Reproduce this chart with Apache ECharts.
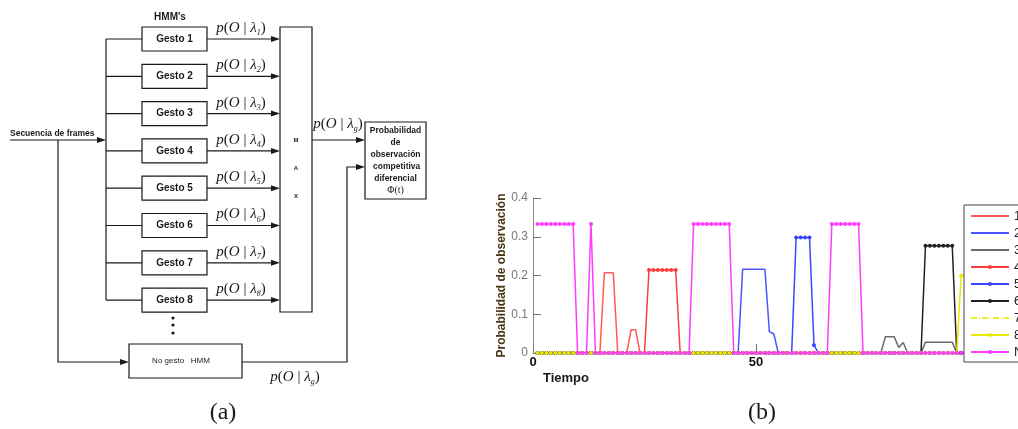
<!DOCTYPE html>
<html>
<head>
<meta charset="utf-8">
<script src="https://cdn.jsdelivr.net/npm/echarts@6/dist/echarts.min.js"></script>
<style>
  html, body { margin: 0; padding: 0; background: #fff; }
  #chart { width: 1018px; height: 429px; }
</style>
</head>
<body>
<div id="chart"></div>
<script>
// ---- (b) observation probabilities, one value per time step (t = 1, 2, ...)
const serieNombres = ['1', '2', '3', '4', '5', '6', '7', '8', 'No gesto'];

const gesto1 = [
  0, 0, 0, 0, 0, 0, 0, 0, 0, 0,
  0, 0, 0, 0, 0, 0.207, 0.207, 0.207, 0, 0,
  0, 0.06, 0.06, 0, 0, 0, 0, 0, 0, 0,
  0, 0, 0, 0, 0, 0, 0, 0, 0, 0,
  0, 0, 0, 0, 0, 0, 0, 0, 0, 0,
  0, 0, 0, 0, 0, 0, 0, 0, 0, 0,
  0, 0, 0, 0, 0, 0, 0, 0, 0, 0,
  0, 0, 0, 0, 0, 0, 0, 0, 0, 0,
  0, 0, 0, 0, 0, 0, 0, 0, 0, 0,
  0, 0, 0, 0, 0, 0, 0, 0, 0
];
const gesto2 = [
  0, 0, 0, 0, 0, 0, 0, 0, 0, 0,
  0, 0, 0, 0, 0, 0, 0, 0, 0, 0,
  0, 0, 0, 0, 0, 0, 0, 0, 0, 0,
  0, 0, 0, 0, 0, 0, 0, 0, 0, 0,
  0, 0, 0, 0, 0, 0, 0.216, 0.216, 0.216, 0.216,
  0.216, 0.216, 0.055, 0.049, 0, 0, 0, 0, 0, 0,
  0, 0, 0, 0, 0, 0, 0, 0, 0, 0,
  0, 0, 0, 0, 0, 0, 0, 0, 0, 0,
  0, 0, 0, 0, 0, 0, 0, 0, 0, 0,
  0, 0, 0, 0, 0, 0, 0, 0, 0
];
const gesto3 = [
  0, 0, 0, 0, 0, 0, 0, 0, 0, 0,
  0, 0, 0, 0, 0, 0, 0, 0, 0, 0,
  0, 0, 0, 0, 0, 0, 0, 0, 0, 0,
  0, 0, 0, 0, 0, 0, 0, 0, 0, 0,
  0, 0, 0, 0, 0, 0, 0, 0, 0, 0,
  0, 0, 0, 0, 0, 0, 0, 0, 0, 0,
  0, 0, 0, 0, 0, 0, 0, 0, 0, 0,
  0, 0, 0, 0, 0, 0, 0, 0, 0.042, 0.042,
  0.042, 0.014, 0.027, 0, 0, 0, 0, 0.028, 0.028, 0.028,
  0.028, 0.028, 0.028, 0.028, 0, 0, 0, 0, 0
];
const gesto4 = [
  0, 0, 0, 0, 0, 0, 0, 0, 0, 0,
  0, 0, 0, 0, 0, 0, 0, 0, 0, 0,
  0, 0, 0, 0, 0, 0.214, 0.214, 0.214, 0.214, 0.214,
  0.214, 0.214, 0, 0, 0, 0, 0, 0, 0, 0,
  0, 0, 0, 0, 0, 0, 0, 0, 0, 0,
  0, 0, 0, 0, 0, 0, 0, 0, 0, 0,
  0, 0, 0, 0, 0, 0, 0, 0, 0, 0,
  0, 0, 0, 0, 0, 0, 0, 0, 0, 0,
  0, 0, 0, 0, 0, 0, 0, 0, 0, 0,
  0, 0, 0, 0, 0, 0, 0, 0, 0
];
const gesto5 = [
  0, 0, 0, 0, 0, 0, 0, 0, 0, 0,
  0, 0, 0, 0, 0, 0, 0, 0, 0, 0,
  0, 0, 0, 0, 0, 0, 0, 0, 0, 0,
  0, 0, 0, 0, 0, 0, 0, 0, 0, 0,
  0, 0, 0, 0, 0, 0, 0, 0, 0, 0,
  0, 0, 0, 0, 0, 0, 0, 0, 0.298, 0.298,
  0.298, 0.298, 0.02, 0, 0, 0, 0, 0, 0, 0,
  0, 0, 0, 0, 0, 0, 0, 0, 0, 0,
  0, 0, 0, 0, 0, 0, 0, 0, 0, 0,
  0, 0, 0, 0, 0, 0, 0, 0, 0
];
const gesto6 = [
  0, 0, 0, 0, 0, 0, 0, 0, 0, 0,
  0, 0, 0, 0, 0, 0, 0, 0, 0, 0,
  0, 0, 0, 0, 0, 0, 0, 0, 0, 0,
  0, 0, 0, 0, 0, 0, 0, 0, 0, 0,
  0, 0, 0, 0, 0, 0, 0, 0, 0, 0,
  0, 0, 0, 0, 0, 0, 0, 0, 0, 0,
  0, 0, 0, 0, 0, 0, 0, 0, 0, 0,
  0, 0, 0, 0, 0, 0, 0, 0, 0, 0,
  0, 0, 0, 0, 0, 0, 0, 0.277, 0.277, 0.277,
  0.277, 0.277, 0.277, 0.277, 0, 0, 0, 0, 0
];
const gesto7 = [
  0, 0, 0, 0, 0, 0, 0, 0, 0, 0,
  0, 0, 0, 0, 0, 0, 0, 0, 0, 0,
  0, 0, 0, 0, 0, 0, 0, 0, 0, 0,
  0, 0, 0, 0, 0, 0, 0, 0, 0, 0,
  0, 0, 0, 0, 0, 0, 0, 0, 0, 0,
  0, 0, 0, 0, 0, 0, 0, 0, 0, 0,
  0, 0, 0, 0, 0, 0, 0, 0, 0, 0,
  0, 0, 0, 0, 0, 0, 0, 0, 0, 0,
  0, 0, 0, 0, 0, 0, 0, 0, 0, 0,
  0, 0, 0, 0, 0, 0, 0, 0, 0
];
const gesto8 = [
  0, 0, 0, 0, 0, 0, 0, 0, 0, 0,
  0, 0, 0, 0, 0, 0, 0, 0, 0, 0,
  0, 0, 0, 0, 0, 0, 0, 0, 0, 0,
  0, 0, 0, 0, 0, 0, 0, 0, 0, 0,
  0, 0, 0, 0, 0, 0, 0, 0, 0, 0,
  0, 0, 0, 0, 0, 0, 0, 0, 0, 0,
  0, 0, 0, 0, 0, 0, 0, 0, 0, 0,
  0, 0, 0, 0, 0, 0, 0, 0, 0, 0,
  0, 0, 0, 0, 0, 0, 0, 0, 0, 0,
  0, 0, 0, 0, 0, 0.2, 0.2, 0.2, 0
];
const noGesto = [
  0.333, 0.333, 0.333, 0.333, 0.333, 0.333, 0.333, 0.333, 0.333, 0,
  0, 0, 0.333, 0, 0, 0, 0, 0, 0, 0,
  0, 0, 0, 0, 0, 0, 0, 0, 0, 0,
  0, 0, 0, 0, 0, 0.333, 0.333, 0.333, 0.333, 0.333,
  0.333, 0.333, 0.333, 0.333, 0, 0, 0, 0, 0, 0,
  0, 0, 0, 0, 0, 0, 0, 0, 0, 0,
  0, 0, 0, 0, 0, 0, 0.333, 0.333, 0.333, 0.333,
  0.333, 0.333, 0.333, 0, 0, 0, 0, 0, 0, 0,
  0, 0, 0, 0, 0, 0, 0, 0, 0, 0,
  0, 0, 0, 0, 0, 0, 0, 0, 0
];

// ---- (a) block diagram texts
const gestos = ['Gesto 1', 'Gesto 2', 'Gesto 3', 'Gesto 4', 'Gesto 5', 'Gesto 6', 'Gesto 7', 'Gesto 8'];
const subindices = ['1', '2', '3', '4', '5', '6', '7', '8'];
const maxLetras = ['M', 'A', 'X'];
const resultadoLineas = ['Probabilidad', 'de', 'observación', ' competitiva', 'diferencial'];
const captions = ['(a)', '(b)'];

const ink = '#1a1a1a';
const sans = '"Liberation Sans", Arial, sans-serif';
const serif = '"Liberation Serif", "Times New Roman", serif';

function seg(points) {
  return { type: 'polyline', silent: true, shape: { points }, style: { stroke: ink, lineWidth: 1.2, fill: null } };
}
function head(x, y) {
  return { type: 'polygon', silent: true, shape: { points: [[x - 9, y - 3], [x, y], [x - 9, y + 3]] }, style: { fill: ink } };
}
function caja(x, y, w, h) {
  return { type: 'rect', silent: true, shape: { x, y, width: w, height: h }, style: { fill: '#fff', stroke: ink, lineWidth: 1.2 } };
}
function texto(text, x, y, font, align, extra) {
  return {
    type: 'text', silent: true, x, y,
    style: Object.assign({ text, font, fill: ink, align: align || 'center', verticalAlign: 'middle',
      textAlign: align || 'center', textVerticalAlign: 'middle' }, extra || {})
  };
}
const probRich = {
  i: { fontFamily: serif, fontStyle: 'italic', fontSize: 15, lineHeight: 18, color: ink },
  n: { fontFamily: serif, fontSize: 15, lineHeight: 18, color: ink },
  s: { fontFamily: serif, fontStyle: 'italic', fontSize: 8, lineHeight: 8, verticalAlign: 'bottom', color: ink }
};
function prob(sub, x, y) {
  return texto(`{i|p}{n|(}{i|O}{n| | }{i|λ}{s|${sub}}{n|)}`, x, y, null, 'center', { rich: probRich });
}

// diagram layout
const rowY0 = 39, rowStep = 37.3;
const busX = 106, boxX = 142, boxW = 65, boxH = 24;
const maxX = 280, maxW = 32, maxTop = 27, maxBottom = 312;
const outY = 140, resX = 365, resY = 122, resW = 61, resH = 77;

const graphic = [];
graphic.push(texto("HMM's", 170, 17, 'bold 10px ' + sans));
gestos.forEach((g, k) => {
  const y = rowY0 + k * rowStep;
  graphic.push(seg([[busX, y], [boxX, y]]));
  graphic.push(caja(boxX, y - boxH / 2, boxW, boxH));
  graphic.push(texto(g, boxX + boxW / 2, y, 'bold 10px ' + sans));
  graphic.push(seg([[boxX + boxW, y], [maxX - 4, y]]));
  graphic.push(head(maxX, y));
  graphic.push(prob(subindices[k], 241, y - 11));
});
const yLast = rowY0 + 7 * rowStep;
graphic.push(seg([[busX, rowY0], [busX, yLast]]));
// input
graphic.push(texto('Secuencia de frames', 10, 134, 'bold 8.5px ' + sans, 'left'));
graphic.push(seg([[10, outY], [busX - 4, outY]]));
graphic.push(head(busX, outY));
graphic.push(seg([[58, outY], [58, 362], [125, 362]]));
graphic.push(head(129, 362));
// dots
[318, 325, 333].forEach(y => graphic.push({ type: 'circle', silent: true, shape: { cx: 173, cy: y, r: 1.6 }, style: { fill: ink } }));
// no gesto
graphic.push(caja(129, 344, 113, 34));
graphic.push(texto('No gesto   HMM', 181, 361, '8px ' + sans));
graphic.push(seg([[242, 362], [347, 362], [347, 167], [resX - 4, 167]]));
graphic.push(head(resX, 167));
graphic.push(texto('{i|p}{n|(}{i|O}{n| | }{i|λ}{s|g}{n|)}', 295, 377, null, 'center', { rich: probRich }));
// MAX
graphic.push(caja(maxX, maxTop, maxW, maxBottom - maxTop));
maxLetras.forEach((l, k) => graphic.push(texto(l, maxX + maxW / 2, 140 + k * 28, 'bold 6px ' + sans)));
graphic.push(seg([[maxX + maxW, outY], [resX - 4, outY]]));
graphic.push(head(resX, outY));
graphic.push(texto('{i|p}{n|(}{i|O}{n| | }{i|λ}{s|g}{n|)}', 338, 124, null, 'center', { rich: probRich }));
// result box
graphic.push(caja(resX, resY, resW, resH));
resultadoLineas.forEach((l, k) => graphic.push(texto(l, resX + resW / 2, 131 + k * 12, 'bold 8.5px ' + sans)));
graphic.push(texto('Φ(t)', resX + resW / 2, 190, '10px ' + serif));
// captions and chart (b) x title
graphic.push(texto(captions[0], 223, 413, '24px ' + serif));
graphic.push(texto(captions[1], 762, 413, '24px ' + serif));
graphic.push(texto('Tiempo', 566, 378, 'bold 13px ' + sans));

const colores = ['#ff5a5a', '#4b55ff', '#6a6a6a', '#ff3c3c', '#3a46ff', '#222222', '#eeee30', '#e8e800', '#ff3cff'];
const valores = [gesto1, gesto2, gesto3, gesto4, gesto5, gesto6, gesto7, gesto8, noGesto];
const conMarca = [false, false, false, true, true, true, false, true, true];

const series = serieNombres.map((name, k) => ({
  name,
  type: 'line',
  data: valores[k].map((v, i) => [i + 1, v]),
  symbol: conMarca[k] ? 'circle' : 'none',
  symbolSize: 4,
  color: colores[k],
  lineStyle: { width: 1.5, color: colores[k], type: k === 6 ? [6, 2, 1, 2] : 'solid' },
  itemStyle: { color: colores[k] },
  silent: true
}));

const chart = echarts.init(document.getElementById('chart'));
chart.setOption({
  animation: false,
  backgroundColor: '#fff',
  grid: { left: 533, top: 198, width: 446, height: 155 },
  xAxis: {
    type: 'value', min: 0, max: 100, interval: 50,
    axisLine: { show: true, lineStyle: { color: '#888', width: 1 } },
    axisTick: { show: true, inside: true, length: 9, lineStyle: { color: '#777' } },
    axisLabel: { fontSize: 13, fontWeight: 'bold', color: '#111', fontFamily: sans, margin: 3, showMaxLabel: false },
    splitLine: { show: false }
  },
  yAxis: {
    type: 'value', min: 0, max: 0.4, interval: 0.1,
    name: 'Probabilidad de observación',
    nameLocation: 'middle', nameGap: 25,
    nameTextStyle: { fontSize: 12, fontWeight: 'bold', color: '#4a3514', fontFamily: sans },
    axisLine: { show: true, lineStyle: { color: '#888', width: 1 } },
    axisTick: { show: true, inside: true, length: 8, lineStyle: { color: '#777' } },
    axisLabel: { fontSize: 12, color: '#777', fontFamily: sans, margin: 5 },
    splitLine: { show: false }
  },
  legend: {
    orient: 'vertical', left: 964, top: 205,
    data: serieNombres.map((name, k) => conMarca[k] ? { name } : { name, itemStyle: { opacity: 0 } }),
    itemWidth: 38, itemHeight: 5, itemGap: 3,
    padding: [4, 6, 3, 6],
    backgroundColor: '#fff', borderColor: '#444', borderWidth: 1, borderRadius: 0,
    textStyle: { fontSize: 13, color: '#222', fontFamily: sans, lineHeight: 14 }
  },
  series,
  graphic
});
</script>
</body>
</html>
